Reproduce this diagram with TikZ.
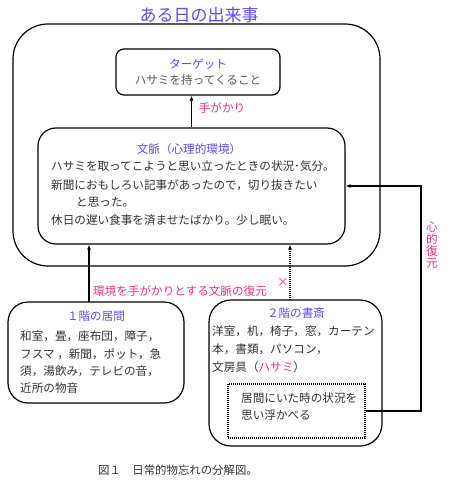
\documentclass[tikz,border=0pt]{standalone}
\usepackage{fontspec}
\setmainfont{Noto Sans CJK JP}
\usetikzlibrary{arrows.meta}
\definecolor{ttl}{rgb}{0.36,0.3,0.95}
\definecolor{pnk}{rgb}{0.92,0.2,0.52}
\definecolor{txt}{rgb}{0.2,0.2,0.2}
\tikzset{
  box/.style={draw, line width=1.2pt, rounded corners=#1, inner sep=0pt},
  dotbox/.style={draw, line width=1.1pt, dash pattern=on 1pt off 1pt, inner sep=0pt},
  arr/.style={line width=1.1pt, -{Latex[length=5pt,width=4pt]}},
  body/.style={anchor=west, inner sep=0pt, text=txt, font=\fontsize{11.6}{12}\selectfont},
  head/.style={inner sep=0pt, text=ttl, font=\fontsize{11.6}{12}\selectfont},
  lab/.style={inner sep=0pt, text=pnk, font=\fontsize{11.6}{12}\selectfont},
}
\begin{document}
\begin{tikzpicture}[x=1pt,y=-1pt]
\useasboundingbox (0,0) rectangle (449,486);
% boxes
\node[box=35pt, minimum width=367pt, minimum height=242pt] (outer) at (196.5,145) {};
\node[box=8pt, minimum width=164pt, minimum height=46pt] (tgt) at (198,72) {};
\node[box=18pt, minimum width=307pt, minimum height=116pt] (ctx) at (191.5,186) {};
\node[box=20pt, minimum width=176pt, minimum height=101pt] (liv) at (96,352.5) {};
\node[box=22pt, minimum width=173pt, minimum height=146pt] (std) at (295.5,373) {};
\node[dotbox, minimum width=137pt, minimum height=54pt] (dbx) at (296.5,411) {};
% title
\node[inner sep=0pt, text=ttl, font=\fontsize{17}{19}\selectfont] (title) at (199,15) {ある日の出来事};
% target
\node[head] (tgth) at (198,64) {ターゲット};
\node[inner sep=0pt, text=txt!80, font=\fontsize{11.6}{12}\selectfont] (tgtt) at (198,80) {ハサミを持ってくること};
% context
\node[head] (ctxh) at (189,149) {文脈（心理的環境）};
\node[body] (c1) at (51,166) {ハサミを取ってこようと思い立ったときの状況･気分。};
\node[body] (c2) at (51,185) {新聞におもしろい記事があったので，切り抜きたい};
\node[body] (c3) at (76,202) {と思った。};
\node[body] (c4) at (51,220) {休日の遅い食事を済ませたばかり。少し眠い。};
% living
\node[head] (livh) at (96,316) {１階の居間};
\node[body] (l1) at (20,336) {和室，畳，座布団，障子，};
\node[body] (l2) at (20,354) {フスマ ，新聞，ポット，急};
\node[body] (l3) at (20,371) {須，湯飲み，テレビの音，};
\node[body] (l4) at (20,388) {近所の物音};
% study
\node[head] (stdh) at (296,313) {２階の書斎};
\node[body] (s1) at (212,331) {洋室，机，椅子，窓，カーテン};
\node[body] (s2) at (212,349) {本，書類，パソコン，};
\node[body] (s3) at (212,367) {文房具（\textcolor{pnk}{ハサミ}）};
\node[body] (d1) at (241,398) {居間にいた時の状況を};
\node[body] (d2) at (241,415) {思い浮かべる};
% connectors
\draw[arr] (ctx.north) -- (ctx.north |- tgt.south);
\node[lab] (l-te) at (222,108) {手がかり};
\coordinate (la) at (89,302);
\draw[arr] (la) -- (la |- ctx.south);
\node[lab, anchor=west] (l-env) at (93,291) {環境を手がかりとする文脈の復元};
\coordinate (sa) at (290,300);
\draw[line width=1.1pt, dash pattern=on 1pt off 1pt, -{Latex[length=5pt,width=4pt]}] (sa) -- (sa |- ctx.south);
\node[lab] (l-x) at (283,282) {×};
\coordinate (rt) at (421,411);
\draw[arr] (dbx.east) -- (rt) |- (ctx.east);
\node[lab, align=center] (l-sin) at (432,245) {心\\的\\復\\元};
% caption
\node[inner sep=0pt, anchor=west, text=txt, font=\fontsize{11.4}{12}\selectfont] (cap) at (98,470) {図１　日常的物忘れの分解図。};
\end{tikzpicture}
\end{document}
